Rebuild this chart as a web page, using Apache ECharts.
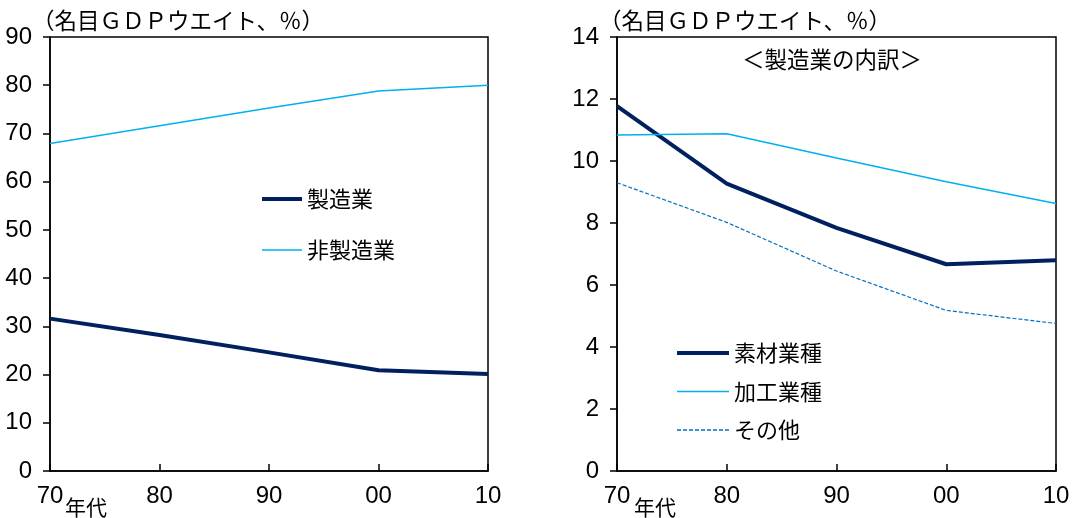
<!DOCTYPE html>
<html>
<head>
<meta charset="utf-8">
<script src="https://cdn.jsdelivr.net/npm/echarts@6/dist/echarts.min.js"></script>
<style>
  html, body { margin: 0; padding: 0; background: #fff; }
  #chart { width: 1073px; height: 518px; }
</style>
</head>
<body>
<div id="chart"></div>
<script>
// Decades on the horizontal axis
const decades = ['70', '80', '90', '00', '10'];

// Left panel: share of nominal GDP (%)
const manufacturing = [31.6, 28.2, 24.6, 20.9, 20.1];
const nonManufacturing = [67.9, 71.6, 75.3, 78.8, 80.0];

// Right panel: breakdown of manufacturing (%)
const materials = [11.77, 9.27, 7.84, 6.67, 6.80];
const processing = [10.84, 10.88, 10.10, 9.33, 8.63];
const others = [9.30, 8.02, 6.45, 5.18, 4.76];

const NAVY = '#002060';
const SKY = '#00B0F0';
const BLUE = '#0070C0';
const NUM_FONT = '"Liberation Sans Narrow", "Liberation Sans", sans-serif';
const JP_FONT = '"Noto Sans CJK JP"';

const chart = echarts.init(document.getElementById('chart'), null, { renderer: 'canvas' });

function xAxisFor(gridIndex) {
  return {
    type: 'category',
    gridIndex,
    data: decades,
    boundaryGap: false,
    axisLine: { lineStyle: { color: '#000', width: 1.5 } },
    axisTick: { inside: true, length: 7, lineStyle: { color: '#000', width: 1.5 } },
    axisLabel: { color: '#000', fontFamily: NUM_FONT, fontSize: 24, margin: 13 },
    splitLine: { show: false }
  };
}

function yAxisFor(gridIndex, max, interval) {
  return {
    type: 'value',
    gridIndex,
    min: 0,
    max,
    interval,
    axisLine: { show: true, lineStyle: { color: '#000', width: 1.5 } },
    axisTick: { show: true, length: 7, lineStyle: { color: '#000', width: 1.5 } },
    axisLabel: { color: '#000', fontFamily: NUM_FONT, fontSize: 24, margin: 18 },
    splitLine: { show: false }
  };
}

function lineSeries(name, data, idx, color, width, type) {
  return {
    name,
    type: 'line',
    xAxisIndex: idx,
    yAxisIndex: idx,
    data,
    symbol: 'none',
    smooth: false,
    silent: true,
    lineStyle: { color, width, type: type || 'solid' },
    itemStyle: { color }
  };
}

// Legend keys drawn as flat bars / dashes so they read as line samples
function barIcon(len, thick) {
  return 'path://M0,0H' + len + 'V' + thick + 'H0Z';
}
function dashIcon(len, thick, dash, gap) {
  let d = '';
  for (let x = 0; x < len; x += dash + gap) {
    const e = Math.min(x + dash, len);
    d += 'M' + x + ',0H' + e + 'V' + thick + 'H' + x + 'Z';
  }
  return 'path://' + d;
}

const legendText = { color: '#000', fontFamily: JP_FONT, fontSize: 22, lineHeight: 21 };

const unitText = '（名目ＧＤＰウエイト、％）';

function label(x, y, text, size) {
  return {
    type: 'text',
    x, y,
    style: { text, fill: '#000', font: size + 'px ' + JP_FONT, verticalAlign: 'middle', textVerticalAlign: 'middle' }
  };
}

const option = {
  animation: false,
  backgroundColor: '#fff',
  grid: [
    { left: 50, right: 585, top: 37, bottom: 47, show: true, borderColor: '#000', borderWidth: 1.5, backgroundColor: 'transparent' },
    { left: 617, right: 17, top: 37, bottom: 47, show: true, borderColor: '#000', borderWidth: 1.5, backgroundColor: 'transparent' }
  ],
  xAxis: [xAxisFor(0), xAxisFor(1)],
  yAxis: [yAxisFor(0, 90, 10), yAxisFor(1, 14, 2)],
  legend: [
    {
      orient: 'vertical',
      left: 262,
      top: 188,
      padding: 0,
      itemWidth: 40,
      itemHeight: 14,
      itemGap: 29,
      data: [
        { name: '製造業', icon: barIcon(40, 4) },
        { name: '非製造業', icon: barIcon(40, 1.5) }
      ],
      textStyle: legendText
    },
    {
      orient: 'vertical',
      left: 677,
      top: 342,
      padding: 0,
      itemWidth: 52,
      itemHeight: 14,
      itemGap: 16.5,
      data: [
        { name: '素材業種', icon: barIcon(52, 4) },
        { name: '加工業種', icon: barIcon(52, 1.5) },
        { name: 'その他', icon: dashIcon(52, 1.3, 4, 2) }
      ],
      textStyle: legendText
    }
  ],
  series: [
    lineSeries('製造業', manufacturing, 0, NAVY, 4),
    lineSeries('非製造業', nonManufacturing, 0, SKY, 1.5),
    lineSeries('素材業種', materials, 1, NAVY, 4),
    lineSeries('加工業種', processing, 1, SKY, 1.5),
    lineSeries('その他', others, 1, BLUE, 1.2, [4, 2])
  ],
  graphic: [
    label(32, 20, unitText, 22.5),
    label(599, 20, unitText, 22.5),
    label(742, 59, '＜製造業の内訳＞', 22.5),
    label(65, 507, '年代', 21),
    label(634, 507, '年代', 21)
  ]
};

chart.setOption(option);
</script>
</body>
</html>
